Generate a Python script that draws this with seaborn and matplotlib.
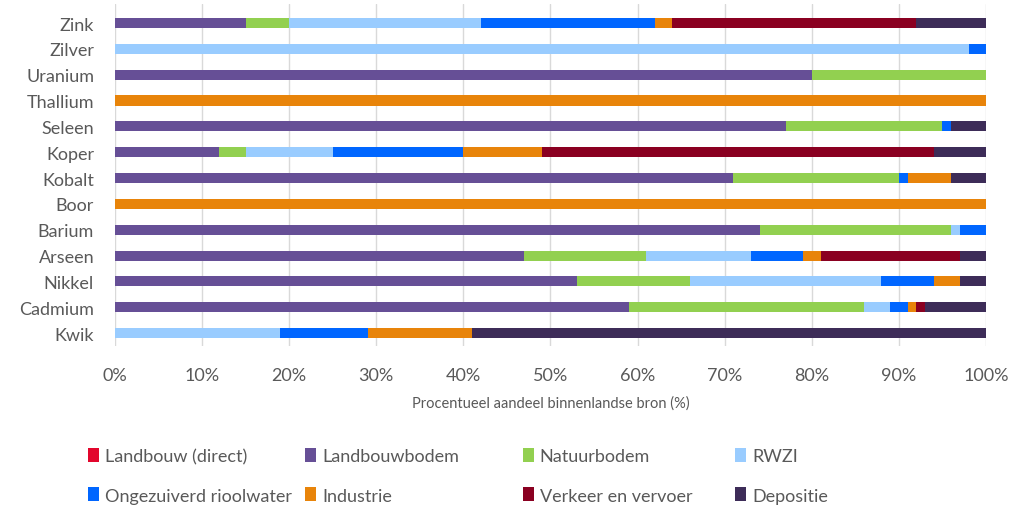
import numpy as np
import pandas as pd
import matplotlib
matplotlib.use("Agg")
import matplotlib.pyplot as plt
from matplotlib.patches import Patch
import seaborn as sns

metals = ["Zink", "Zilver", "Uranium", "Thallium", "Seleen", "Koper", "Kobalt",
          "Boor", "Barium", "Arseen", "Nikkel", "Cadmium", "Kwik"]

sources = ["Landbouw (direct)", "Landbouwbodem", "Natuurbodem", "RWZI",
           "Ongezuiverd rioolwater", "Industrie", "Verkeer en vervoer", "Depositie"]

landbouw_direct = [0, 0, 0, 0, 0, 0, 0, 0, 0, 0, 0, 0, 0]
landbouwbodem   = [15, 0, 80, 0, 77, 12, 71, 0, 74, 47, 53, 59, 0]
natuurbodem     = [5, 0, 20, 0, 18, 3, 19, 0, 22, 14, 13, 27, 0]
rwzi            = [22, 98, 0, 0, 0, 10, 0, 0, 1, 12, 22, 3, 19]
ongezuiverd     = [20, 2, 0, 0, 1, 15, 1, 0, 3, 6, 6, 2, 10]
industrie       = [2, 0, 0, 100, 0, 9, 5, 100, 0, 2, 3, 1, 12]
verkeer         = [28, 0, 0, 0, 0, 45, 0, 0, 0, 16, 0, 1, 0]
depositie       = [8, 0, 0, 0, 4, 6, 4, 0, 0, 3, 3, 7, 59]

colors = ["#E2062C", "#664F96", "#92D050", "#99CCFF",
          "#0066FF", "#E8840A", "#8A0021", "#3D2C58"]

df = pd.DataFrame(
    np.array([landbouw_direct, landbouwbodem, natuurbodem, rwzi,
              ongezuiverd, industrie, verkeer, depositie]).T,
    index=metals, columns=sources)
cum = df.cumsum(axis=1)

sns.set_theme(style="white")
plt.rcParams["font.family"] = ["Lato", "DejaVu Sans"]
TXT = "#595959"

fig = plt.figure(figsize=(10.11, 5.06), dpi=100)
ax = fig.add_axes([0.1137, 0.3142, 0.8616, 0.6759])

# stacked bars: draw cumulative totals from the last series backwards
for src, col in reversed(list(zip(sources, colors))):
    d = pd.DataFrame({"metal": metals, "val": cum[src].values})
    sns.barplot(data=d, x="val", y="metal", order=metals, color=col,
                width=0.39, orient="h", ax=ax, saturation=1, linewidth=0)

ax.set_xlim(0, 100)
ax.set_ylim(12.5, -0.735)
ax.set_xticks(np.arange(0, 101, 10))
ax.set_xticklabels([f"{v}%" for v in range(0, 101, 10)], fontsize=13, color=TXT)
ax.tick_params(axis="y", labelsize=13, labelcolor=TXT, length=0, pad=15)
ax.tick_params(axis="x", length=0, pad=15)
ax.grid(axis="x", color="#D9D9D9", linewidth=1)
ax.set_axisbelow(True)
for s in ax.spines.values():
    s.set_visible(False)
ax.set_ylabel("")
ax.set_xlabel("Procentueel aandeel binnenlandse bron (%)", fontsize=10.5, color=TXT, labelpad=9)

# legend: 4 columns, 2 rows
col_x = [0.087, 0.302, 0.517, 0.727]
for i, x in enumerate(col_x):
    handles = [Patch(facecolor=colors[i], edgecolor="none", label=sources[i]),
               Patch(facecolor=colors[i + 4], edgecolor="none", label=sources[i + 4])]
    fig.legend(handles=handles, loc="upper left", bbox_to_anchor=(x, 0.113),
               frameon=False, fontsize=13, handlelength=0.6, handleheight=0.8,
               handletextpad=0.35, labelspacing=1.3, borderpad=0, borderaxespad=0,
               labelcolor=TXT)

fig.savefig("out.png", dpi=100, facecolor="white")
